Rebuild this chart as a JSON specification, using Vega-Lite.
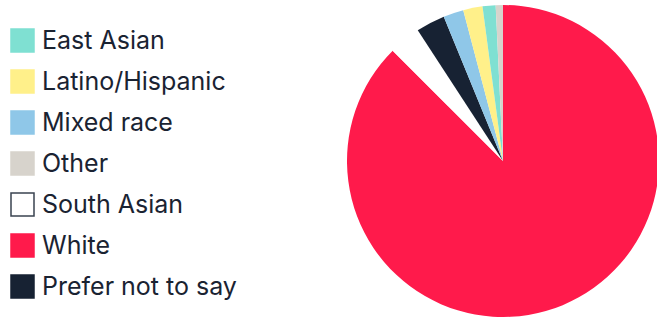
{
  "$schema": "https://vega.github.io/schema/vega-lite/v6.json",
  "autosize": "none",
  "width": 312,
  "height": 312,
  "padding": {"left": 347, "top": 5, "right": 0, "bottom": 0},
  "background": "#ffffff",
  "config": {"view": {"stroke": null}, "font": "Inter"},
  "data": {
    "values": [
      {"race": "White", "pct": 87.5, "ord": 1},
      {"race": "South Asian", "pct": 3.3, "ord": 2},
      {"race": "Prefer not to say", "pct": 3.0, "ord": 3},
      {"race": "Mixed race", "pct": 2.1, "ord": 4},
      {"race": "Latino/Hispanic", "pct": 2.0, "ord": 5},
      {"race": "East Asian", "pct": 1.35, "ord": 6},
      {"race": "Other", "pct": 0.75, "ord": 7}
    ]
  },
  "mark": {"type": "arc", "outerRadius": 156, "strokeWidth": 0},
  "encoding": {
    "theta": {"field": "pct", "type": "quantitative", "stack": true},
    "order": {"field": "ord", "type": "quantitative"},
    "color": {
      "field": "race",
      "type": "nominal",
      "scale": {
        "domain": ["East Asian", "Latino/Hispanic", "Mixed race", "Other", "South Asian", "White", "Prefer not to say"],
        "range": ["#7fe0d2", "#fff08a", "#8fc7e8", "#d7d3cc", "#ffffff", "#ff1a4b", "#172233"]
      },
      "legend": {
        "title": null,
        "orient": "none",
        "legendX": -337,
        "legendY": 23,
        "symbolType": "square",
        "symbolSize": 529,
        "symbolStrokeWidth": 1.5,
        "labelFontSize": 25,
        "labelColor": "#1a2332",
        "labelOffset": 7,
        "rowPadding": 12,
        "labelLimit": 300
      }
    },
    "stroke": {
      "field": "race",
      "type": "nominal",
      "scale": {
        "domain": ["East Asian", "Latino/Hispanic", "Mixed race", "Other", "South Asian", "White", "Prefer not to say"],
        "range": ["#7fe0d2", "#fff08a", "#8fc7e8", "#d7d3cc", "#3a4350", "#ff1a4b", "#172233"]
      }
    }
  }
}
